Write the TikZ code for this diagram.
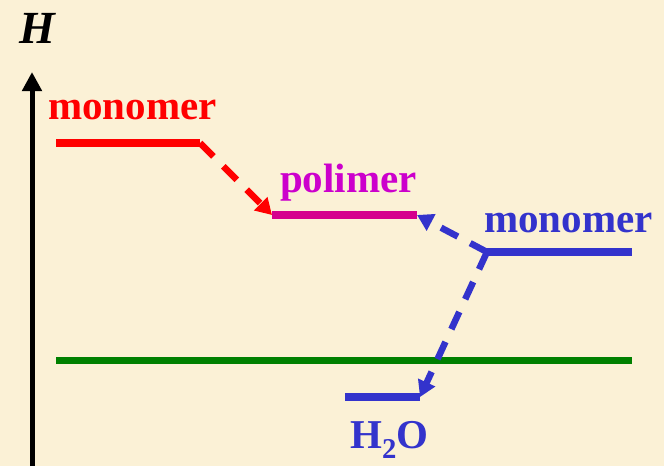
\documentclass[tikz,border=0pt]{standalone}
\usepackage{fontspec}
\setmainfont{Liberation Serif}
\usetikzlibrary{arrows.meta}
\definecolor{bg}{HTML}{FBF1D6}
\definecolor{myred}{HTML}{FF0000}
\definecolor{mymag}{HTML}{D5008D}
\definecolor{mypurp}{HTML}{CC00CC}
\definecolor{myblue}{HTML}{3333CC}
\definecolor{mygreen}{HTML}{008000}
\tikzset{
  lvl/.style={line width=8pt},
  dconn/.style={line width=6.5pt, dash pattern=on 19pt off 14pt, -{Triangle[length=16pt,width=18pt]}},
  lbl/.style={font=\fontsize{41}{41}\selectfont\bfseries, inner sep=0pt, anchor=base west},
}
\begin{document}
\begin{tikzpicture}[x=1pt,y=-1pt]
\fill[bg] (0,0) rectangle (664,466);
\useasboundingbox (0,0) rectangle (664,466);
% axis
\coordinate (axb) at (32,466);
\coordinate (axt) at (32,72);
\draw[line width=5pt, -{Triangle[length=19pt,width=19pt]}] (axb) -- (axt);
\node[inner sep=0pt, anchor=base west, font=\fontsize{46}{46}\selectfont\bfseries\itshape] (H) at (19,43) {H};
% green baseline
\coordinate (g1) at (56,360);
\coordinate (g2) at (632,360);
\draw[mygreen, line width=7pt] (g1) -- (g2);
% red monomer
\node[lbl, text=myred] (rm) at (48,119) {monomer};
\coordinate (r1) at (56,143);
\coordinate (r2) at (200,143);
\draw[lvl, myred] (r1) -- (r2);
% polimer
\node[lbl, text=mypurp] (pt) at (280,192) {polimer};
\coordinate (p1) at (272,215);
\coordinate (p2) at (417,215);
\draw[lvl, mymag] (p1) -- (p2);
% blue monomer
\node[lbl, text=myblue] (bm) at (484,232) {monomer};
\coordinate (b1) at (487,252);
\coordinate (b2) at (632,252);
\draw[lvl, myblue] (b1) -- (b2);
% H2O
\node[lbl, text=myblue] (w) at (350,448) {H\textsubscript{2}O};
\coordinate (w1) at (345,397);
\coordinate (w2) at (420,397);
\draw[lvl, myblue] (w1) -- (w2);
% connectors
\draw[dconn, myred] (r2) -- (p1);
\draw[dconn, myblue] (b1) -- (p2);
\draw[dconn, myblue] (b1) -- (w2);
\end{tikzpicture}
\end{document}
